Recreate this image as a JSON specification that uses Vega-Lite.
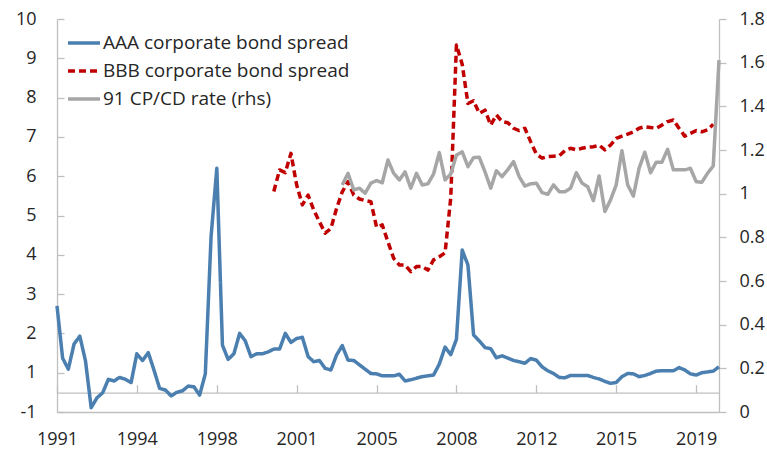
{
"$schema":"https://vega.github.io/schema/vega-lite/v6.json",
"width":662,"height":393,
"autosize":"none",
"padding":{"left":57,"top":19,"right":48,"bottom":38},
"background":"white",
"config":{"font":"Open Sans","view":{"stroke":null},
 "axis":{"labelFont":"Open Sans","labelFontSize":18,"labelColor":"#262626","domainColor":"#bfbfbf","tickColor":"#bfbfbf","grid":false,"title":null,"domainWidth":1.3,"tickWidth":1.3,"labelOverlap":false},
 "legend":{"labelFont":"Open Sans","labelFontSize":19,"labelColor":"#262626","labelLimit":400}
},
"data":{"values":[
{"d":"1991-01-01","aaa":2.70},{"d":"1991-04-01","aaa":1.37},{"d":"1991-07-01","aaa":1.09},{"d":"1991-10-01","aaa":1.73},
{"d":"1992-01-01","aaa":1.93},{"d":"1992-04-01","aaa":1.30},{"d":"1992-07-01","aaa":0.11},{"d":"1992-10-01","aaa":0.36},
{"d":"1993-01-01","aaa":0.49},{"d":"1993-04-01","aaa":0.83},{"d":"1993-07-01","aaa":0.79},{"d":"1993-10-01","aaa":0.88},
{"d":"1994-01-01","aaa":0.83},{"d":"1994-04-01","aaa":0.75},{"d":"1994-07-01","aaa":1.48},{"d":"1994-10-01","aaa":1.31},
{"d":"1995-01-01","aaa":1.51},{"d":"1995-04-01","aaa":1.07},{"d":"1995-07-01","aaa":0.60},{"d":"1995-10-01","aaa":0.56},
{"d":"1996-01-01","aaa":0.41},{"d":"1996-04-01","aaa":0.50},{"d":"1996-07-01","aaa":0.54},{"d":"1996-10-01","aaa":0.66},
{"d":"1997-01-01","aaa":0.64},{"d":"1997-04-01","aaa":0.43},{"d":"1997-07-01","aaa":0.97},{"d":"1997-10-01","aaa":4.46},
{"d":"1998-01-01","aaa":6.20},{"d":"1998-04-01","aaa":1.70},{"d":"1998-07-01","aaa":1.34},{"d":"1998-10-01","aaa":1.48},
{"d":"1999-01-01","aaa":2.00},{"d":"1999-04-01","aaa":1.81},{"d":"1999-07-01","aaa":1.41},{"d":"1999-10-01","aaa":1.48},
{"d":"2000-01-01","aaa":1.48},{"d":"2000-04-01","aaa":1.53},{"d":"2000-07-01","aaa":1.60,"bbb":5.61},{"d":"2000-10-01","aaa":1.60,"bbb":6.16},
{"d":"2001-01-01","aaa":2.00,"bbb":6.09},{"d":"2001-04-01","aaa":1.77,"bbb":6.58},{"d":"2001-07-01","aaa":1.87,"bbb":5.78},{"d":"2001-10-01","aaa":1.90,"bbb":5.27},
{"d":"2002-01-01","aaa":1.41,"bbb":5.52},{"d":"2002-04-01","aaa":1.28,"bbb":5.14},{"d":"2002-07-01","aaa":1.31,"bbb":4.84},{"d":"2002-10-01","aaa":1.11,"bbb":4.55},
{"d":"2003-01-01","aaa":1.07,"bbb":4.67},{"d":"2003-04-01","aaa":1.45,"bbb":5.18},{"d":"2003-07-01","aaa":1.69,"bbb":5.60,"cp":1.040},{"d":"2003-10-01","aaa":1.32,"bbb":5.86,"cp":1.093},
{"d":"2004-01-01","aaa":1.31,"bbb":5.52,"cp":1.017},{"d":"2004-04-01","aaa":1.20,"bbb":5.42,"cp":1.025},{"d":"2004-07-01","aaa":1.09,"bbb":5.38,"cp":1.002},{"d":"2004-10-01","aaa":0.98,"bbb":5.35,"cp":1.048},
{"d":"2005-01-01","aaa":0.97,"bbb":4.70,"cp":1.060},{"d":"2005-04-01","aaa":0.92,"bbb":4.76,"cp":1.050},{"d":"2005-07-01","aaa":0.92,"bbb":4.33,"cp":1.154},{"d":"2005-10-01","aaa":0.92,"bbb":3.91,"cp":1.093},
{"d":"2006-01-01","aaa":0.96,"bbb":3.74,"cp":1.063},{"d":"2006-04-01","aaa":0.79,"bbb":3.74,"cp":1.100},{"d":"2006-07-01","aaa":0.82,"bbb":3.57,"cp":1.025},{"d":"2006-10-01","aaa":0.86,"bbb":3.70,"cp":1.093},
{"d":"2007-01-01","aaa":0.90,"bbb":3.70,"cp":1.040},{"d":"2007-04-01","aaa":0.92,"bbb":3.61,"cp":1.045},{"d":"2007-07-01","aaa":0.94,"bbb":3.87,"cp":1.090},{"d":"2007-10-01","aaa":1.22,"bbb":3.95,"cp":1.188},
{"d":"2008-01-01","aaa":1.65,"bbb":4.05,"cp":1.063},{"d":"2008-04-01","aaa":1.46,"bbb":5.45,"cp":1.090},{"d":"2008-07-01","aaa":1.85,"bbb":9.34,"cp":1.177},{"d":"2008-10-01","aaa":4.12,"bbb":8.85,"cp":1.192},
{"d":"2009-01-01","aaa":3.74,"bbb":7.85,"cp":1.124},{"d":"2009-04-01","aaa":1.96,"bbb":7.92,"cp":1.165},{"d":"2009-07-01","aaa":1.81,"bbb":7.60,"cp":1.167},{"d":"2009-10-01","aaa":1.64,"bbb":7.68,"cp":1.100},
{"d":"2010-01-01","aaa":1.61,"bbb":7.30,"cp":1.025},{"d":"2010-04-01","aaa":1.38,"bbb":7.56,"cp":1.105},{"d":"2010-07-01","aaa":1.43,"bbb":7.39,"cp":1.078},{"d":"2010-10-01","aaa":1.37,"bbb":7.36,"cp":1.110},
{"d":"2011-01-01","aaa":1.31,"bbb":7.22,"cp":1.147},{"d":"2011-04-01","aaa":1.28,"bbb":7.16,"cp":1.078},{"d":"2011-07-01","aaa":1.24,"bbb":7.22,"cp":1.035},{"d":"2011-10-01","aaa":1.36,"bbb":6.88,"cp":1.045},
{"d":"2012-01-01","aaa":1.32,"bbb":6.56,"cp":1.048},{"d":"2012-04-01","aaa":1.15,"bbb":6.46,"cp":1.005},{"d":"2012-07-01","aaa":1.05,"bbb":6.50,"cp":0.997},{"d":"2012-10-01","aaa":0.98,"bbb":6.51,"cp":1.040},
{"d":"2013-01-01","aaa":0.88,"bbb":6.52,"cp":1.009},{"d":"2013-04-01","aaa":0.87,"bbb":6.65,"cp":1.009},{"d":"2013-07-01","aaa":0.93,"bbb":6.71,"cp":1.025},{"d":"2013-10-01","aaa":0.93,"bbb":6.67,"cp":1.096},
{"d":"2014-01-01","aaa":0.93,"bbb":6.71,"cp":1.048},{"d":"2014-04-01","aaa":0.93,"bbb":6.74,"cp":1.032},{"d":"2014-07-01","aaa":0.88,"bbb":6.75,"cp":0.968},{"d":"2014-10-01","aaa":0.84,"bbb":6.79,"cp":1.081},
{"d":"2015-01-01","aaa":0.78,"bbb":6.67,"cp":0.918},{"d":"2015-04-01","aaa":0.73,"bbb":6.79,"cp":0.971},{"d":"2015-07-01","aaa":0.75,"bbb":6.96,"cp":1.040},{"d":"2015-10-01","aaa":0.90,"bbb":7.02,"cp":1.197},
{"d":"2016-01-01","aaa":0.98,"bbb":7.07,"cp":1.040},{"d":"2016-04-01","aaa":0.97,"bbb":7.13,"cp":0.989},{"d":"2016-07-01","aaa":0.90,"bbb":7.22,"cp":1.116},{"d":"2016-10-01","aaa":0.93,"bbb":7.26,"cp":1.190},
{"d":"2017-01-01","aaa":0.98,"bbb":7.24,"cp":1.096},{"d":"2017-04-01","aaa":1.04,"bbb":7.22,"cp":1.144},{"d":"2017-07-01","aaa":1.05,"bbb":7.30,"cp":1.144},{"d":"2017-10-01","aaa":1.05,"bbb":7.39,"cp":1.203},
{"d":"2018-01-01","aaa":1.05,"bbb":7.43,"cp":1.109},{"d":"2018-04-01","aaa":1.13,"bbb":7.22,"cp":1.109},{"d":"2018-07-01","aaa":1.07,"bbb":7.02,"cp":1.109},{"d":"2018-10-01","aaa":0.97,"bbb":7.09,"cp":1.116},
{"d":"2019-01-01","aaa":0.94,"bbb":7.16,"cp":1.055},{"d":"2019-04-01","aaa":1.00,"bbb":7.13,"cp":1.052},{"d":"2019-07-01","aaa":1.02,"bbb":7.18,"cp":1.093},{"d":"2019-10-01","aaa":1.04,"bbb":7.32,"cp":1.127},
{"d":"2020-01-01","aaa":1.15,"cp":1.612}
]},
"transform":[{"fold":["aaa","bbb","cp"],"as":["s","v"]}],
"layer":[
 {"transform":[{"filter":"datum.s != 'cp'"}],
  "mark":{"type":"line","strokeWidth":3.5,"strokeJoin":"round"},
  "encoding":{
   "x":{"field":"d","type":"temporal",
     "scale":{"type":"utc","domain":[{"year":1991,"month":1,"date":1,"utc":true},{"year":2020,"month":1,"date":1,"utc":true}]},
     "axis":{"orient":"bottom","values":[{"year":1991,"month":1,"date":1,"utc":true},{"year":1994,"month":7,"date":1,"utc":true},{"year":1998,"month":1,"date":1,"utc":true},{"year":2001,"month":7,"date":1,"utc":true},{"year":2005,"month":1,"date":1,"utc":true},{"year":2008,"month":7,"date":1,"utc":true},{"year":2012,"month":1,"date":1,"utc":true},{"year":2015,"month":7,"date":1,"utc":true},{"year":2019,"month":1,"date":1,"utc":true}],
       "format":"%Y","ticks":false,"labelPadding":18,"labelFlush":false}},
   "y":{"field":"v","type":"quantitative","scale":{"domain":[0,10],"nice":false,"zero":false},
     "axis":{"orient":"left","values":[0,1,2,3,4,5,6,7,8,9,10],"labelExpr":"datum.value == 0 ? '-1' : datum.label","tickSize":-7,"labelPadding":28}},
   "color":{"field":"s","type":"nominal","scale":{"domain":["aaa","bbb","cp"],"range":["#4a7fb0","#c00000","#a6a6a6"]},
     "legend":{"title":null,"orient":"none","legendX":9,"legendY":6,"symbolType":"stroke","symbolSize":1024,"symbolStrokeWidth":3.5,"rowPadding":0,"padding":0,"labelOffset":1,
       "labelExpr":"datum.label == 'aaa' ? 'AAA corporate bond spread' : datum.label == 'bbb' ? 'BBB corporate bond spread' : '91 CP/CD rate (rhs)'"}},
   "strokeDash":{"field":"s","type":"nominal","scale":{"domain":["aaa","bbb","cp"],"range":[[1,0],[7,4],[1,0]]},
     "legend":{"title":null,"orient":"none","legendX":9,"legendY":6,"symbolType":"stroke","symbolSize":1024,"symbolStrokeWidth":3.5,"rowPadding":0,"padding":0,"labelOffset":1,
       "labelExpr":"datum.label == 'aaa' ? 'AAA corporate bond spread' : datum.label == 'bbb' ? 'BBB corporate bond spread' : '91 CP/CD rate (rhs)'"}}
  }},
 {"transform":[{"filter":"datum.s == 'cp'"}],
  "mark":{"type":"line","strokeWidth":3.5,"strokeJoin":"round"},
  "encoding":{
   "x":{"field":"d","type":"temporal",
     "axis":{"orient":"bottom","values":[{"year":1991,"month":1,"date":1,"utc":true},{"year":1994,"month":7,"date":1,"utc":true},{"year":1998,"month":1,"date":1,"utc":true},{"year":2001,"month":7,"date":1,"utc":true},{"year":2005,"month":1,"date":1,"utc":true},{"year":2008,"month":7,"date":1,"utc":true},{"year":2012,"month":1,"date":1,"utc":true},{"year":2015,"month":7,"date":1,"utc":true},{"year":2019,"month":1,"date":1,"utc":true}],
       "labels":false,"ticks":true,"tickSize":-8,"offset":-19.3}},
   "y":{"field":"v","type":"quantitative","scale":{"domain":[0,1.8],"nice":false,"zero":false},
     "axis":{"orient":"right","values":[0,0.2,0.4,0.6,0.8,1,1.2,1.4,1.6,1.8],"format":"~g","tickSize":7,"labelPadding":13}},
   "color":{"field":"s","type":"nominal"},
   "strokeDash":{"field":"s","type":"nominal"}
  }}
],
"resolve":{"scale":{"y":"independent"},"axis":{"x":"independent"}}
}
